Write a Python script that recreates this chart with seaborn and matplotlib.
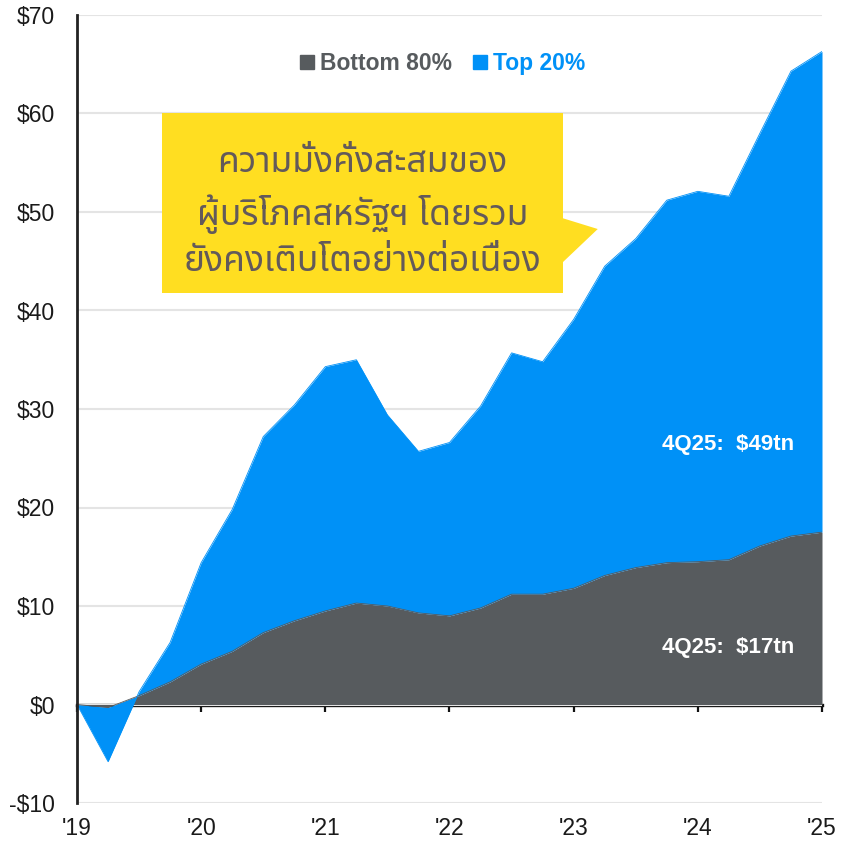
import numpy as np
import pandas as pd
import seaborn as sns
import matplotlib
matplotlib.use("Agg")
import matplotlib.pyplot as plt
from matplotlib import font_manager as fm
from matplotlib.ft2font import FT2Font
from matplotlib.lines import Line2D
from matplotlib.patches import Polygon, Rectangle

# ---------------- data ----------------
quarters = list(range(25))                      # 4Q18 ... 4Q25
bottom80 = [0, -0.3, 0.9, 2.3, 4.1, 5.4, 7.3, 8.5, 9.5, 10.3, 10.0, 9.3, 9.0,
            9.8, 11.2, 11.2, 11.8, 13.1, 13.9, 14.4, 14.5, 14.7, 16.1, 17.1, 17.5]
top20 = [0, -5.5, 0.4, 4.0, 10.3, 14.4, 19.9, 21.9, 24.8, 24.7, 19.4, 16.4, 17.6,
         20.5, 24.5, 23.6, 27.3, 31.4, 33.4, 36.8, 37.6, 36.9, 41.9, 47.2, 48.8]
series_names = ["Bottom 80%", "Top 20%"]
year_ticks = [0, 4, 8, 12, 16, 20, 24]
year_labels = ["'19", "'20", "'21", "'22", "'23", "'24", "'25"]
y_ticks = [-10, 0, 10, 20, 30, 40, 50, 60, 70]
y_labels = ["-$10", "$0", "$10", "$20", "$30", "$40", "$50", "$60", "$70"]
end_labels = ["4Q25:  $17tn", "4Q25:  $49tn"]
callout = "ความมั่งคั่งสะสมของ\nผู้บริโภคสหรัฐฯ โดยรวม\nยังคงเติบโตอย่างต่อเนื่อง"

GRAY = "#575b5e"
BLUE = "#0091f7"
YELLOW = "#ffde21"
TXT = "#635a5a"

df = pd.DataFrame({"q": quarters, series_names[0]: bottom80, series_names[1]: top20})

# ---------------- fonts ----------------
def find_thai():
    pref = ["Noto Sans Thai", "Noto Sans Thai Looped", "Sarabun", "Loma", "Garuda",
            "Waree", "Kinnari", "Norasi", "Tlwg Typo", "Noto Serif Thai", "FreeSans",
            "DejaVu Sans", "Noto Sans"]
    found = {}
    for f in fm.fontManager.ttflist:
        try:
            cm = FT2Font(f.fname).get_charmap()
        except Exception:
            continue
        if 0x0E01 in cm and 0x0E48 in cm:
            found.setdefault(f.name, f)
    for p in pref:
        if p in found:
            return p
    return next(iter(found), "DejaVu Sans")

sns.set_style("white")
plt.rcParams["font.family"] = ["Liberation Sans", "DejaVu Sans"]
thai_font = find_thai()

# ---------------- figure ----------------
fig = plt.figure(figsize=(8.41, 8.41), dpi=100)
ax = fig.add_axes([77/841, 1-803/841, 745/841, 788/841])

ax.stackplot(df["q"], df[series_names[0]], df[series_names[1]],
             colors=[GRAY, BLUE], linewidth=0, zorder=2)
cum = np.array(bottom80) + np.array(top20)
sns.lineplot(x=df["q"], y=df[series_names[0]], color=GRAY, lw=0.6, ax=ax, zorder=2.5)
sns.lineplot(x=df["q"], y=cum, color=BLUE, lw=0.6, ax=ax, zorder=2.5)

ax.set_xlim(0, 24)
ax.set_ylim(-10, 70)
ax.set_yticks(y_ticks)
ax.set_yticklabels(y_labels, fontsize=16.5, color="#1a1a1a")
ax.set_xticks(year_ticks)
ax.set_xticklabels(year_labels, fontsize=16.5, color="#1a1a1a")
ax.tick_params(axis="y", length=0, pad=16)
ax.tick_params(axis="x", length=0, pad=10)
ax.set_xlabel("")
ax.set_ylabel("")
ax.grid(axis="y", color="#e4e4e4", lw=1.5, zorder=0)
ax.grid(axis="x", visible=False)
for s in ["top", "right", "bottom"]:
    ax.spines[s].set_visible(False)
ax.spines["left"].set_color("#222222")
ax.spines["left"].set_linewidth(2)

# zero axis with year ticks
sec = ax.secondary_xaxis(0.125)
sec.set_xticks(year_ticks)
sec.set_xticklabels([""] * len(year_ticks))
sec.tick_params(axis="x", direction="out", length=5, width=1.6, color="#111111")
sec.spines["bottom"].set_color("#111111")
sec.spines["bottom"].set_linewidth(2.4)

# legend
handles = [Line2D([], [], marker="s", ls="", markersize=10, color=GRAY),
           Line2D([], [], marker="s", ls="", markersize=10, color=BLUE)]
leg = ax.legend(handles, series_names, loc="center", bbox_to_anchor=(0.49, 0.939),
                ncol=2, frameon=False, handletextpad=0.2, columnspacing=0.9,
                handlelength=0.7, labelcolor=[GRAY, BLUE],
                prop={"family": "Liberation Sans", "weight": "bold", "size": 16.5})

# callout box
ax.add_patch(Rectangle((0.114, 0.6470), 0.652 - 0.114, 0.8756 - 0.6470,
                       transform=ax.transAxes, facecolor=YELLOW, edgecolor="none", zorder=4))
ax.add_patch(Polygon([(0.651, 0.7424), (0.699, 0.7284), (0.651, 0.6853)], closed=True,
                     transform=ax.transAxes, facecolor=YELLOW, edgecolor="none", zorder=4))
ax.text(0.383, 0.749, callout, transform=ax.transAxes, ha="center", va="center",
        fontsize=25.5, color=TXT, linespacing=1.45, family=[thai_font, "DejaVu Sans"], zorder=5)

# end labels
ax.text(23.1, 5.8, end_labels[0], ha="right", va="center", color="white",
        fontsize=16, fontweight="bold", zorder=5)
ax.text(23.1, 26.4, end_labels[1], ha="right", va="center", color="white",
        fontsize=16, fontweight="bold", zorder=5)

fig.savefig("out.png", dpi=100, facecolor="white")
